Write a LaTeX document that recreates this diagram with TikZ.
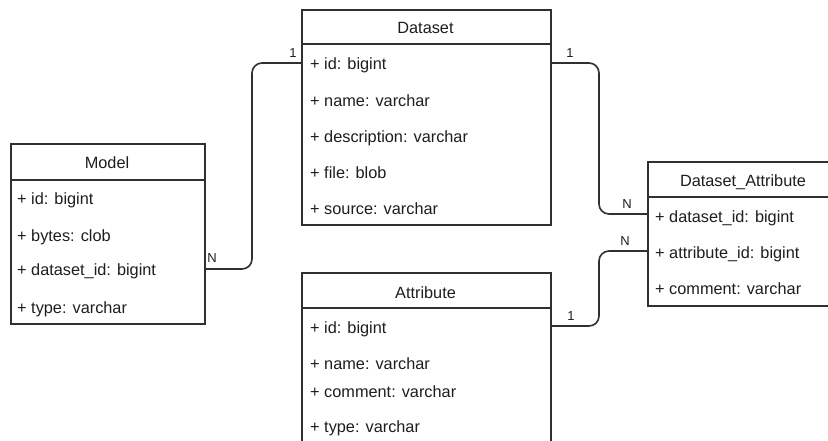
\documentclass[tikz,border=0pt]{standalone}
\usepackage{fontspec}
\setmainfont{Liberation Sans}
\definecolor{linec}{HTML}{303030}
\definecolor{textc}{HTML}{1E1E1E}
\begin{document}
\begin{tikzpicture}[x=1pt,y=-1pt,
  tbl/.style={draw=linec, line width=1.6pt, fill=white, anchor=north west, inner sep=0pt},
  hdr/.style={draw=linec, line width=1.6pt},
  ttl/.style={anchor=base, inner sep=0pt, text=textc, font=\fontsize{16.3}{18}\selectfont},
  fld/.style={anchor=base west, inner sep=0pt, text=textc, font=\fontsize{16.3}{18}\selectfont},
  card/.style={inner sep=0pt, text=textc, font=\fontsize{13}{15}\selectfont},
  conn/.style={draw=linec, line width=1.6pt, rounded corners=10pt}]
\useasboundingbox (0,0) rectangle (828,440);
\clip (0,0) rectangle (828,440);
\fill[white] (0,0) rectangle (828,440);

% ---- Dataset ----
\node[tbl, minimum width=249pt, minimum height=215pt] (dataset) at (301,9) {};
\draw[hdr] ([yshift=-35pt]dataset.north west) -- ([yshift=-35pt]dataset.north east);
\node[ttl] (datasetT) at (425.5,33) {Dataset};
\node[fld] (d1) at (310,69) {+ id: bigint};
\node[fld] (d2) at (310,106) {+ name: varchar};
\node[fld] (d3) at (310,142) {+ description: varchar};
\node[fld] (d4) at (310,178) {+ file: blob};
\node[fld] (d5) at (310,214) {+ source: varchar};

% ---- Model ----
\node[tbl, minimum width=194pt, minimum height=180pt] (model) at (10,143) {};
\draw[hdr] ([yshift=-37pt]model.north west) -- ([yshift=-37pt]model.north east);
\node[ttl] (modelT) at (107,168) {Model};
\node[fld] (m1) at (17,204) {+ id: bigint};
\node[fld] (m2) at (17,241) {+ bytes: clob};
\node[fld] (m3) at (17,275) {+ dataset\_id: bigint};
\node[fld] (m4) at (17,313) {+ type: varchar};

% ---- Dataset_Attribute ----
\node[tbl, minimum width=192pt, minimum height=144pt] (dsattr) at (647,161) {};
\draw[hdr] ([yshift=-36pt]dsattr.north west) -- ([yshift=-36pt]dsattr.north east);
\node[ttl] (dsattrT) at (743,186) {Dataset\_Attribute};
\node[fld] (a1) at (655,222) {+ dataset\_id: bigint};
\node[fld] (a2) at (655,258) {+ attribute\_id: bigint};
\node[fld] (a3) at (655,294) {+ comment: varchar};

% ---- Attribute ----
\node[tbl, minimum width=249pt, minimum height=200pt] (attr) at (301,272) {};
\draw[hdr] ([yshift=-36pt]attr.north west) -- ([yshift=-36pt]attr.north east);
\node[ttl] (attrT) at (425.5,298) {Attribute};
\node[fld] (t1) at (310,333) {+ id: bigint};
\node[fld] (t2) at (310,369) {+ name: varchar};
\node[fld] (t3) at (310,397) {+ comment: varchar};
\node[fld] (t4) at (310,432) {+ type: varchar};

% ---- relations ----
\coordinate (mOut) at (204,269);
\coordinate (dIn)  at (301,63);
\coordinate (dOut) at (550,63);
\coordinate (aIn1) at (647,214);
\coordinate (aIn2) at (647,251);
\coordinate (tOut) at (550,326);

\draw[conn] (mOut) -- (252,269) |- (dIn);
\draw[conn] (dOut) -- (599,63) |- (aIn1);
\draw[conn] (tOut) -- (599,326) |- (aIn2);

\node[card] (c1) at (212,258) {N};
\node[card] (c2) at (293,53) {1};
\node[card] (c3) at (570,53) {1};
\node[card] (c4) at (627,204) {N};
\node[card] (c5) at (625,241) {N};
\node[card] (c6) at (571,316) {1};
\end{tikzpicture}
\end{document}
